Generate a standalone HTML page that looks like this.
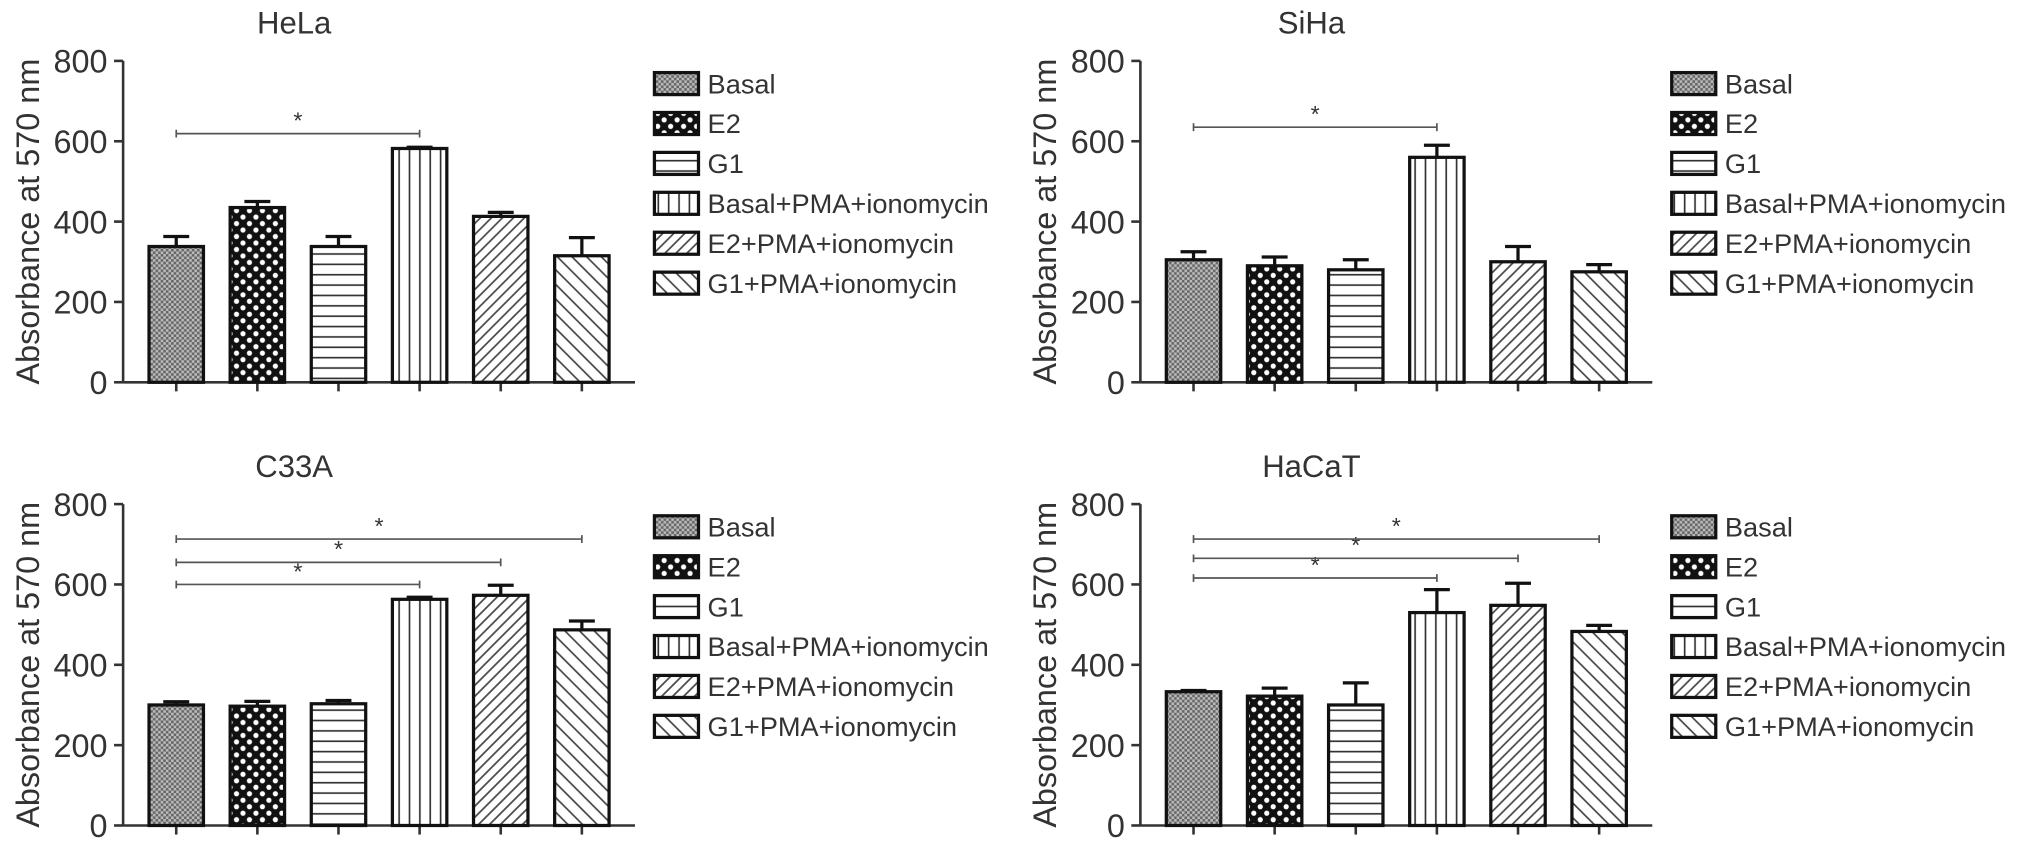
<!DOCTYPE html>
<html><head><meta charset="utf-8"><style>
body{margin:0;background:#fff;}
svg{display:block;font-family:"Liberation Sans",sans-serif;}
</style></head><body>
<svg id="c" width="2032" height="854" xmlns="http://www.w3.org/2000/svg">
<defs>
<pattern id="p0" width="4" height="4" patternUnits="userSpaceOnUse"><rect width="4" height="4" fill="#bbb"/><rect width="2" height="2" fill="#666"/><rect x="2" y="2" width="2" height="2" fill="#666"/></pattern>
<pattern id="p1" width="10" height="10" patternUnits="userSpaceOnUse"><rect width="10" height="10" fill="#111"/><circle cx="2.5" cy="2.5" r="2" fill="#fff"/><circle cx="7.5" cy="7.5" r="2" fill="#fff"/></pattern>
<pattern id="p2" width="8" height="8" patternUnits="userSpaceOnUse"><rect width="8" height="8" fill="#fff"/><line x1="0" y1="4" x2="8" y2="4" stroke="#333" stroke-width="1.3"/></pattern>
<pattern id="p3" width="8" height="8" patternUnits="userSpaceOnUse"><rect width="8" height="8" fill="#fff"/><line x1="4" y1="0" x2="4" y2="8" stroke="#333" stroke-width="1.3"/></pattern>
<pattern id="p4" width="6" height="6" patternUnits="userSpaceOnUse" patternTransform="rotate(45)"><rect width="6" height="6" fill="#fff"/><line x1="3" y1="0" x2="3" y2="6" stroke="#444" stroke-width="1.3"/></pattern>
<pattern id="p5" width="8" height="8" patternUnits="userSpaceOnUse" patternTransform="rotate(-45)"><rect width="8" height="8" fill="#fff"/><line x1="4" y1="0" x2="4" y2="8" stroke="#444" stroke-width="1.3"/></pattern>
</defs>
<g id="root" transform="scale(1.2959)"></g>
</svg>
<script>
const categories=["Basal","E2","G1","Basal+PMA+ionomycin","E2+PMA+ionomycin","G1+PMA+ionomycin"];
const yTicks=[0,200,400,600,800];
const helaValues=[338,435,338,582,413,315];
const helaErrors=[25,15,25,3,10,45];
const sihaValues=[305,290,280,560,300,275];
const sihaErrors=[20,22,25,30,38,18];
const c33aValues=[300,297,303,563,573,487];
const c33aErrors=[8,12,8,5,25,22];
const hacatValues=[333,322,300,530,548,483];
const hacatErrors=[3,20,55,57,55,15];
const helaSig=[[0,3,619]];
const sihaSig=[[0,3,635]];
const c33aSig=[[0,3,600],[0,4,655],[0,5,713]];
const hacatSig=[[0,3,616],[0,4,665],[0,5,713]];
const panels=[
 {name:"HeLa",ax:95,y0:295,yt:47,v:helaValues,e:helaErrors,s:helaSig,lx:505},
 {name:"SiHa",ax:880,y0:295,yt:47,v:sihaValues,e:sihaErrors,s:sihaSig,lx:1290},
 {name:"C33A",ax:95,y0:637,yt:389,v:c33aValues,e:c33aErrors,s:c33aSig,lx:505},
 {name:"HaCaT",ax:880,y0:637,yt:389,v:hacatValues,e:hacatErrors,s:hacatSig,lx:1290}];
const root=document.getElementById('root');
const NS="http://www.w3.org/2000/svg";
function mk(t,a,p){const el=document.createElementNS(NS,t);for(const k in a)el.setAttribute(k,a[k]);(p||root).appendChild(el);return el;}
panels.forEach(P=>{
 const g=mk('g',{});
 
 
 const y=v=>P.y0-(v/800)*(P.y0-P.yt);
 const x=i=>P.ax+41+i*62.6;
 const t=mk('text',{x:P.ax+132,y:P.yt-21,'font-size':24,'text-anchor':'middle',fill:'#333'},g);t.textContent=P.name;
 
 
 const at=mk('text',{x:0,y:0,'font-size':25,'text-anchor':'middle',fill:'#333',transform:`translate(30,${(P.y0+P.yt)/2}) rotate(-90)`},g);at.textContent="Absorbance at 570 nm";
 
 
 if(P.ax>500)at.setAttribute('transform',`translate(${P.ax-65},${(P.y0+P.yt)/2}) rotate(-90)`);
 const ya=mk('line',{x1:P.ax,y1:P.yt,x2:P.ax,y2:P.y0,stroke:'#333','stroke-width':2},g);
 
 
 const xa=mk('line',{x1:P.ax,y1:P.y0,x2:P.ax+395,y2:P.y0,stroke:'#333','stroke-width':2},g);
 
 
 yTicks.forEach(v=>{
  mk('line',{x1:P.ax-7,y1:y(v),x2:P.ax,y2:y(v),stroke:'#333','stroke-width':2},g);
  const tl=mk('text',{x:P.ax-12,y:y(v)+9,'font-size':25,'text-anchor':'end',fill:'#333'},g);tl.textContent=v;
  
  
 });
 P.v.forEach((v,i)=>{
  mk('line',{x1:x(i),y1:P.y0,x2:x(i),y2:P.y0+7,stroke:'#333','stroke-width':2},g);
  const er=mk('path',{d:`M${x(i)} ${y(v)}V${y(v+P.e[i])}M${x(i)-10} ${y(v+P.e[i])}H${x(i)+10}`,stroke:'#111','stroke-width':2.5,fill:'none'},g);
  
  
  const b=mk('rect',{x:x(i)-21,y:y(v),width:42,height:P.y0-y(v),fill:`url(#p${i})`,stroke:'#111','stroke-width':2.5},g);
  
  
 });
 P.s.forEach(s=>{
  const sy=y(s[2]);
  const sl=mk('path',{d:`M${x(s[0])} ${sy}H${x(s[1])}M${x(s[0])} ${sy-3}v6M${x(s[1])} ${sy-3}v6`,stroke:'#555','stroke-width':1.3,fill:'none'},g);
  
  
  const st=mk('text',{x:(x(s[0])+x(s[1]))/2,y:sy-4,'font-size':18,'text-anchor':'middle',fill:'#333'},g);st.textContent='*';
  
  
 });
 categories.forEach((c,i)=>{
  const ly=P.yt+17+i*30.8;
  const lg=mk('g',{},g);
  
  
  mk('rect',{x:P.lx,y:ly-8,width:34,height:17,fill:`url(#p${i})`,stroke:'#111','stroke-width':2.5},lg);
  const lt=mk('text',{x:P.lx+41,y:ly+8,'font-size':21,fill:'#333'},lg);lt.textContent=c;
 });
});
</script>
</body></html>
